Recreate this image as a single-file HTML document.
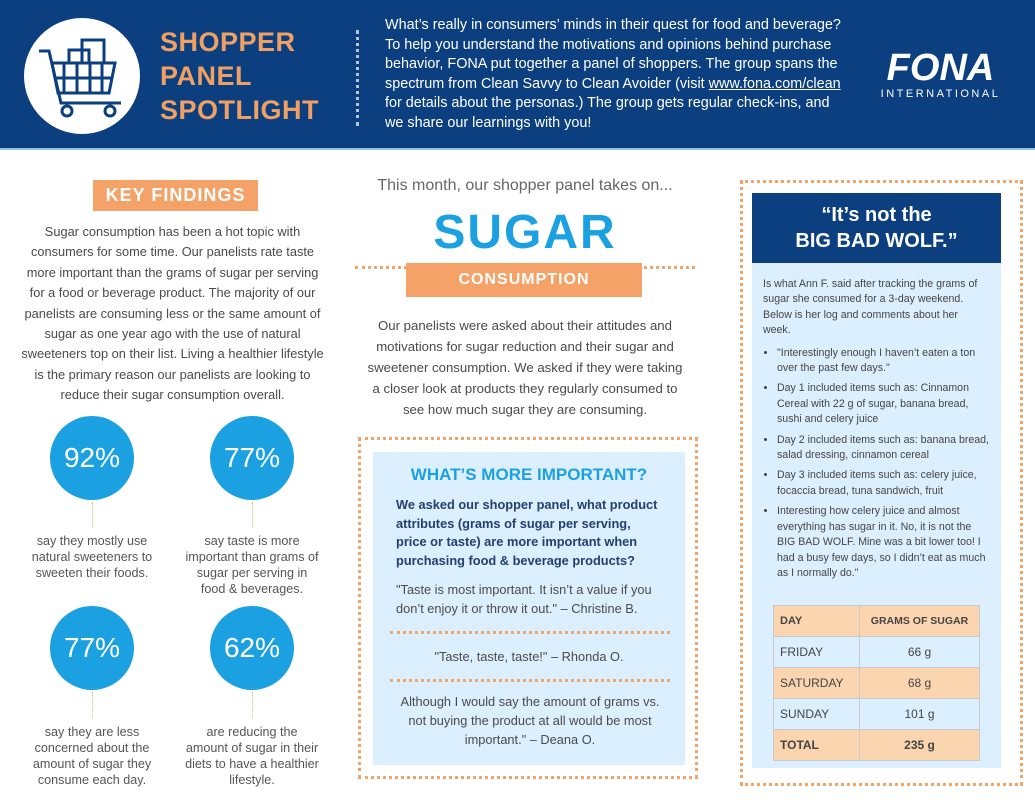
<!DOCTYPE html>
<html><head><meta charset="utf-8"><style>
*{margin:0;padding:0;box-sizing:border-box}
body{width:1035px;height:800px;background:#fff;position:relative;overflow:hidden;font-family:"Liberation Sans",sans-serif;color:#4a4a4a}
.a{position:absolute}
.c{text-align:center}
.circ{position:absolute;width:84px;height:84px;border-radius:50%;background:#1ba0e2;color:#fff;font-size:28px;text-align:center;line-height:84px}
.stem{position:absolute;width:0;height:26px;border-left:1px dotted #c9c48a}
.cap{position:absolute;width:134px;text-align:center;font-size:12.6px;line-height:16px;color:#555}
.dots{border:3px dotted #f0a66a}
.hl{position:absolute;border-top:3px dotted #f0a66a}
li{margin-bottom:5px}
td{border:1px solid #c9c9c9;padding:0 6px;height:31px;font-size:12px}
</style></head><body>
<div class="a" style="left:0;top:0;width:1035px;height:148px;background:#0c3f7f"></div>
<div class="a" style="left:0;top:148px;width:1035px;height:2px;background:#8fc3e6"></div>
<div class="a" style="left:24px;top:18px;width:116px;height:116px;border-radius:50%;background:#fff">
<svg width="116" height="116" viewBox="0 0 116 116"><g fill="none" stroke="#0c3f7f" stroke-width="3"><path d="M15 33h10l12 52h60"/><path d="M28 45h63l-6 30H34z"/><path d="M40 45v30M53 45v30M66 45v30M78 45v30M31 60h58"/><rect x="45" y="32" width="20" height="13"/><rect x="58" y="22" width="22" height="23"/><circle cx="43" cy="93" r="5"/><circle cx="86" cy="93" r="5"/></g></svg></div>
<div class="a" style="left:160px;top:25px;font-size:27px;font-weight:bold;color:#f0a062;line-height:34px;letter-spacing:0.5px">SHOPPER<br>PANEL<br>SPOTLIGHT</div>
<div class="a" style="left:356px;top:30px;height:96px;border-left:3px dotted #b8c3d6"></div>
<div class="a" style="left:385px;top:16px;width:462px;font-size:14.4px;line-height:19.6px;color:#fff">What’s really in consumers’ minds in their quest for food and beverage? To help you understand the motivations and opinions behind purchase behavior, FONA put together a panel of shoppers. The group spans the spectrum from Clean Savvy to Clean Avoider (visit <u>www.fona.com/clean</u> for details about the personas.) The group gets regular check-ins, and we share our learnings with you!</div>
<div class="a c" style="left:858px;top:48px;width:165px;color:#fff"><div style="font-size:38px;font-weight:bold;font-style:italic;line-height:40px">FONA</div><div style="font-size:11px;letter-spacing:2.5px">INTERNATIONAL</div></div>

<div class="a c" style="left:93px;top:180px;width:165px;height:31px;background:#f4a268;color:#fff;font-size:18px;font-weight:bold;line-height:31px;letter-spacing:1px">KEY FINDINGS</div>
<div class="a c" style="left:20px;top:222px;width:305px;font-size:12.8px;line-height:20.4px">Sugar consumption has been a hot topic with consumers for some time. Our panelists rate taste more important than the grams of sugar per serving for a food or beverage product. The majority of our panelists are consuming less or the same amount of sugar as one year ago with the use of natural sweeteners top on their list. Living a healthier lifestyle is the primary reason our panelists are looking to reduce their sugar consumption overall.</div>
<div class="circ" style="left:50px;top:416px">92%</div>
<div class="circ" style="left:210px;top:416px">77%</div>
<div class="circ" style="left:50px;top:606px">77%</div>
<div class="circ" style="left:210px;top:606px">62%</div>
<div class="stem" style="left:92px;top:502px"></div><div class="stem" style="left:252px;top:502px"></div>
<div class="stem" style="left:92px;top:692px"></div><div class="stem" style="left:252px;top:692px"></div>
<div class="cap" style="left:25px;top:533px">say they mostly use natural sweeteners to sweeten their foods.</div>
<div class="cap" style="left:185px;top:533px">say taste is more important than grams of sugar per serving in food &amp; beverages.</div>
<div class="cap" style="left:25px;top:724px">say they are less concerned about the amount of sugar they consume each day.</div>
<div class="cap" style="left:185px;top:724px">are reducing the amount of sugar in their diets to have a healthier lifestyle.</div>

<div class="a c" style="left:355px;top:177px;width:340px;font-size:16px;color:#666">This month, our shopper panel takes on...</div>
<div class="a c" style="left:355px;top:205px;width:340px;font-size:48px;font-weight:bold;color:#1ba0e2;letter-spacing:2px">SUGAR</div>
<div class="hl" style="left:355px;top:266px;width:340px"></div>
<div class="a c" style="left:406px;top:263px;width:236px;height:34px;background:#f4a268;color:#fff;font-size:16px;font-weight:bold;line-height:34px;letter-spacing:1px">CONSUMPTION</div>
<div class="a c" style="left:365px;top:315px;width:320px;font-size:13.2px;line-height:21px">Our panelists were asked about their attitudes and motivations for sugar reduction and their sugar and sweetener consumption. We asked if they were taking a closer look at products they regularly consumed to see how much sugar they are consuming.</div>
<div class="a dots" style="left:358px;top:437px;width:340px;height:342px"></div>
<div class="a" style="left:373px;top:452px;width:312px;height:313px;background:#dcefff"></div>
<div class="a c" style="left:373px;top:465px;width:312px;font-size:17px;font-weight:bold;color:#1ba0e2">WHAT’S MORE IMPORTANT?</div>
<div class="a" style="left:396px;top:496px;width:265px;font-size:12.8px;line-height:18.5px;font-weight:bold;color:#23406e">We asked our shopper panel, what product attributes (grams of sugar per serving, price or taste) are more important when purchasing food &amp; beverage products?</div>
<div class="a" style="left:396px;top:580px;width:275px;font-size:12.8px;line-height:19px">"Taste is most important. It isn’t a value if you don’t enjoy it or throw it out." – Christine B.</div>
<div class="hl" style="left:390px;top:631px;width:280px"></div>
<div class="a c" style="left:373px;top:649px;width:312px;font-size:12.8px">"Taste, taste, taste!" – Rhonda O.</div>
<div class="hl" style="left:390px;top:679px;width:280px"></div>
<div class="a c" style="left:400px;top:692px;width:260px;font-size:12.8px;line-height:19px">Although I would say the amount of grams vs. not buying the product at all would be most important." – Deana O.</div>

<div class="a dots" style="left:740px;top:180px;width:283px;height:606px"></div>
<div class="a c" style="left:752px;top:193px;width:249px;height:70px;background:#0c3f7f;color:#fff;font-size:20px;font-weight:bold;line-height:26px;padding-top:9px">“It’s not the<br>BIG BAD WOLF.”</div>
<div class="a" style="left:752px;top:263px;width:249px;height:505px;background:#dcefff;padding:14px 10px 0 11px;font-size:10.6px;line-height:15.4px;color:#444">
<p style="padding-right:12px">Is what Ann F. said after tracking the grams of sugar she consumed for a 3-day weekend. Below is her log and comments about her week.</p>
<ul style="margin:7px 0 0 14px">
<li>"Interestingly enough I haven’t eaten a ton over the past few days."</li>
<li>Day 1 included items such as: Cinnamon Cereal with 22 g of sugar, banana bread, sushi and celery juice</li>
<li>Day 2 included items such as: banana bread, salad dressing, cinnamon cereal</li>
<li>Day 3 included items such as: celery juice, focaccia bread, tuna sandwich, fruit</li>
<li>Interesting how celery juice and almost everything has sugar in it. No, it is not the BIG BAD WOLF. Mine was a bit lower too! I had a busy few days, so I didn’t eat as much as I normally do."</li>
</ul></div>
<table class="a" style="left:773px;top:605px;width:207px;border-collapse:collapse;color:#444">
<tr style="background:#fbd5b0;font-weight:bold"><td style="width:86px;font-size:11px">DAY</td><td class="c" style="font-size:10.5px;white-space:nowrap;padding:0 2px">GRAMS OF SUGAR</td></tr>
<tr style="background:#dcefff"><td>FRIDAY</td><td class="c">66 g</td></tr>
<tr style="background:#fbd5b0"><td>SATURDAY</td><td class="c">68 g</td></tr>
<tr style="background:#dcefff"><td>SUNDAY</td><td class="c">101 g</td></tr>
<tr style="background:#fbd5b0;font-weight:bold"><td>TOTAL</td><td class="c">235 g</td></tr>
</table>
</body></html>
